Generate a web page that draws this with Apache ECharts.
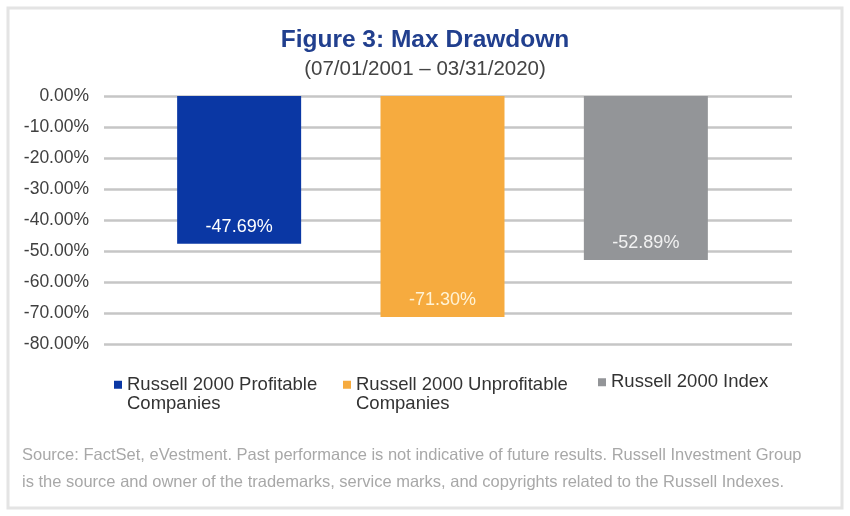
<!DOCTYPE html>
<html>
<head>
<meta charset="utf-8">
<script src="https://cdn.jsdelivr.net/npm/echarts@6/dist/echarts.min.js"></script>
<style>
html,body{margin:0;padding:0;background:#fff;}
#chart{width:850px;height:516px;}
</style>
</head>
<body>
<div id="chart"></div>
<script>
// ---- data ----
const seriesNames = [
  "Russell 2000 Profitable Companies",
  "Russell 2000 Unprofitable Companies",
  "Russell 2000 Index"
];
const legendLabels = [
  "Russell 2000 Profitable\nCompanies",
  "Russell 2000 Unprofitable\nCompanies",
  "Russell 2000 Index"
];
const maxDrawdown = [-47.69, -71.30, -52.89];
const barColors = ["#0a37a4", "#f6ab3f", "#939598"];
const labelColors = ["#ffffff", "#fff3d6", "#f2f2f2"];
const yMin = -80, yMax = 0, yStep = 10;
const titleText = "Figure 3: Max Drawdown";
const subtitleText = "(07/01/2001 \u2013 03/31/2020)";
const sourceText = "Source: FactSet, eVestment. Past performance is not indicative of future results. Russell Investment Group\nis the source and owner of the trademarks, service marks, and copyrights related to the Russell Indexes.";

const FONT = "'Liberation Sans', Arial, sans-serif";

const chart = echarts.init(document.getElementById('chart'), null, {renderer: 'canvas'});

const legendLeft = [114, 343, 598];
const legends = seriesNames.map((name, i) => {
  const twoLine = legendLabels[i].indexOf('\n') >= 0;
  return {
    data: [name],
    left: legendLeft[i],
    top: twoLine ? 355.5 : 372.5,
    padding: 0,
    orient: 'horizontal',
    itemWidth: 8,
    itemHeight: 8,
    icon: 'rect',
    selectedMode: false,
    formatter: () => twoLine ? ' \n' + legendLabels[i] : legendLabels[i],
    textStyle: {fontFamily: FONT, fontSize: 18.5, color: '#333333', lineHeight: 19.5}
  };
});

const option = {
  animation: false,
  backgroundColor: '#ffffff',
  textStyle: {fontFamily: FONT},
  title: [
    {text: titleText, left: 'center', top: 28, padding: 0,
     textStyle: {fontFamily: FONT, fontSize: 24.5, fontWeight: 'bold', color: '#213f8e'}},
    {text: subtitleText, left: 'center', top: 59, padding: 0,
     textStyle: {fontFamily: FONT, fontSize: 20.5, fontWeight: 'normal', color: '#444444'}},
    {text: sourceText, left: 22, top: 442, padding: 0,
     textStyle: {fontFamily: FONT, fontSize: 16.5, fontWeight: 'normal', color: '#a8a8a8', lineHeight: 27}}
  ],
  legend: legends,
  graphic: [{
    type: 'rect', silent: true, z: -1,
    shape: {x: 8, y: 8, width: 834, height: 500},
    style: {fill: 'none', stroke: '#e4e4e4', lineWidth: 3}
  }],
  grid: [
    {left: 104, width: 688, top: 96, bottom: 172},
    {left: 98.5, width: 688, top: 96, bottom: 172}
  ],
  xAxis: [
    {gridIndex: 0, type: 'category', data: [''], show: false},
    {gridIndex: 1, type: 'category', data: [''], show: false}
  ],
  yAxis: [
    {gridIndex: 0, type: 'value', min: yMin, max: yMax, interval: yStep,
     axisLine: {show: false}, axisTick: {show: false},
     splitLine: {lineStyle: {color: '#c6c6c6', width: 2.5}},
     axisLabel: {margin: 15, fontSize: 17.5, color: '#404040', fontFamily: FONT,
                 formatter: v => v.toFixed(2) + '%'}},
    {gridIndex: 1, type: 'value', min: yMin, max: yMax, interval: yStep, show: false,
     splitLine: {show: false}}
  ],
  series: seriesNames.map((name, i) => ({
    name: name,
    type: 'bar',
    xAxisIndex: 1,
    yAxisIndex: 1,
    barWidth: 124,
    barGap: '64%',
    data: [maxDrawdown[i]],
    itemStyle: {color: barColors[i]},
    z: 3,
    label: {
      show: true,
      position: 'insideBottom',
      distance: 8,
      color: labelColors[i],
      fontFamily: FONT,
      fontSize: 18,
      formatter: p => p.value.toFixed(2) + '%'
    }
  }))
};
chart.setOption(option);
</script>
</body>
</html>
